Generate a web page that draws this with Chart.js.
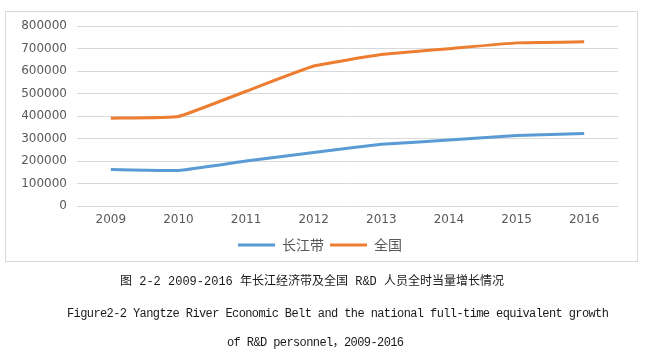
<!DOCTYPE html>
<html>
<head>
<meta charset="utf-8">
<script src="https://cdn.jsdelivr.net/npm/chart.js@4/dist/chart.umd.min.js"></script>
<style>
  html, body { margin: 0; padding: 0; background: #fff; }
  body { width: 654px; height: 358px; position: relative; overflow: hidden; }
  #box { position: absolute; left: 5px; top: 11px; width: 631px; height: 249px; border: 1px solid #d9d9d9; }
  #wrap { position: absolute; left: 0; top: 0; width: 654px; height: 358px; }
  .cap { position: absolute; white-space: nowrap; color: #1a1a1a; font-family: "Liberation Mono", "Noto Sans CJK SC", monospace; font-size: 12px; line-height: 14px; }
  #cap1 { left: 120px; top: 275px; }
  #cap2 { left: 67px; top: 307px; letter-spacing: -0.6px; }
  #cap3 { left: 227px; top: 336px; letter-spacing: -0.6px; }
</style>
</head>
<body>
<div id="box"></div>
<div id="wrap"><canvas id="c" width="654" height="358"></canvas></div>
<div class="cap" id="cap1">图 2-2 2009-2016 年长江经济带及全国 R&amp;D 人员全时当量增长情况</div>
<div class="cap" id="cap2">Figure2-2 Yangtze River Economic Belt and the national full-time equivalent growth</div>
<div class="cap" id="cap3">of R&amp;D personnel，2009-2016</div>
<script>
const years = ['2009', '2010', '2011', '2012', '2013', '2014', '2015', '2016'];
const yangtze = [162000, 158000, 200000, 238000, 274000, 293000, 313000, 322000];
const national = [390000, 398000, 510000, 622000, 673000, 699000, 725000, 730000];
const seriesNames = ['长江带', '全国'];

new Chart(document.getElementById('c'), {
  type: 'line',
  data: {
    labels: years,
    datasets: [
      { label: seriesNames[0], data: yangtze, borderColor: '#5B9BD5', backgroundColor: '#5B9BD5', borderWidth: 3, pointRadius: 0, tension: 0.1, fill: false },
      { label: seriesNames[1], data: national, borderColor: '#ED7D31', backgroundColor: '#ED7D31', borderWidth: 3, pointRadius: 0, tension: 0.1, fill: false }
    ]
  },
  options: {
    responsive: false,
    animation: false,
    devicePixelRatio: 1,
    layout: { padding: { left: 22, right: 36, top: 26, bottom: 96 } },
    plugins: {
      tooltip: { enabled: false },
      legend: {
        position: 'bottom',
        labels: {
          usePointStyle: true,
          pointStyle: 'line',
          pointStyleWidth: 37,
          padding: 6,
          color: '#595959',
          font: { family: '"Noto Sans CJK SC", "DejaVu Sans", sans-serif', size: 14 }
        }
      }
    },
    scales: {
      x: {
        offset: true,
        grid: { display: false, drawTicks: false },
        border: { display: false },
        ticks: { color: '#595959', padding: 7, font: { family: '"DejaVu Sans", sans-serif', size: 12 } },
        afterFit: (s) => { s.height = 26; }
      },
      y: {
        min: 0, max: 800000,
        grid: { color: '#d9d9d9', lineWidth: 1, drawTicks: false },
        border: { display: false },
        ticks: { stepSize: 100000, color: '#595959', padding: 10, font: { family: '"DejaVu Sans", sans-serif', size: 12 }, callback: (v) => String(v) },
        afterFit: (s) => { s.width = 55; }
      }
    }
  }
});
</script>
</body>
</html>
